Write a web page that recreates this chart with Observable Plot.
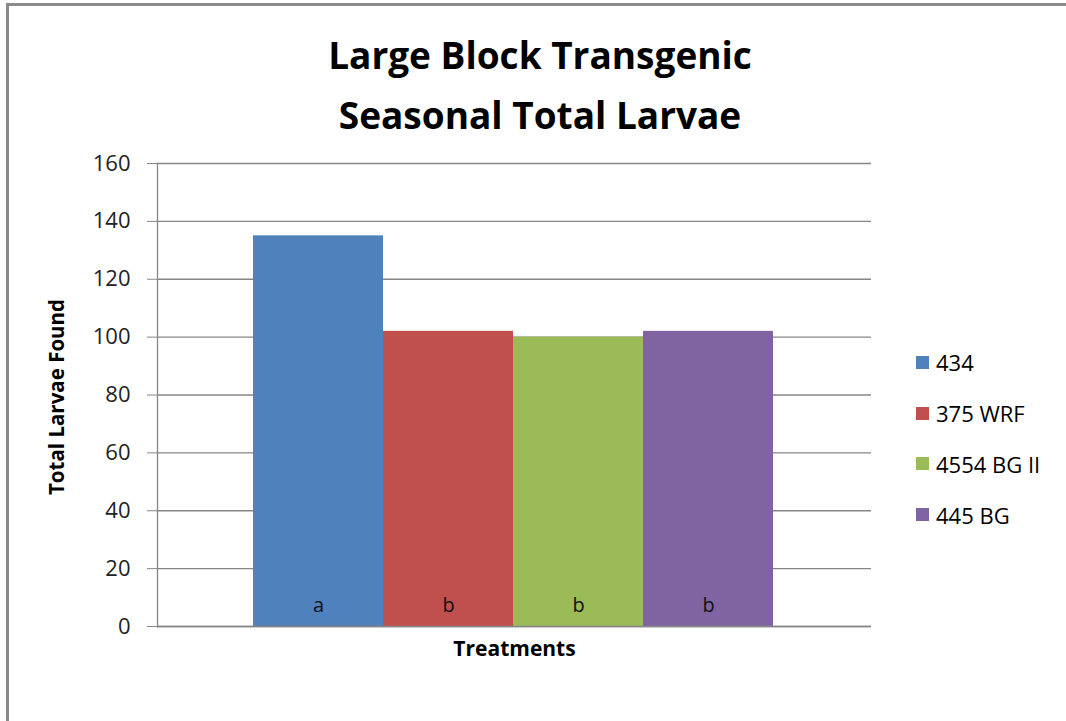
<!DOCTYPE html>
<html><head><meta charset="utf-8">
<script src="https://cdn.jsdelivr.net/npm/d3@7"></script>
<script src="https://cdn.jsdelivr.net/npm/@observablehq/plot@0.6"></script>
<style>
body{margin:0;background:#fff;}
#wrap{position:relative;width:1066px;height:721px;overflow:hidden;font-family:"Open Sans",sans-serif;color:#000;}
#frame{position:absolute;left:6px;top:3px;width:1200px;height:900px;border-left:3px solid #8a8a8a;border-top:3px solid #8a8a8a;}
#chart{position:absolute;left:0;top:0;}
.title{position:absolute;left:7px;width:1066px;text-align:center;font-weight:bold;font-size:37px;line-height:40px;white-space:nowrap;}
#legend{position:absolute;left:916px;top:337px;}
.li{height:50.8px;display:flex;align-items:center;font-size:22px;line-height:26px;}
.sw{width:13px;height:13px;margin-right:7px;}
</style></head>
<body>
<div id="wrap">
  <div id="frame"></div>
  <div id="chart"></div>
  <div class="title" style="top:35px">Large Block Transgenic</div>
  <div class="title" style="top:95px">Seasonal Total Larvae</div>
  <div id="legend"></div>
</div>
<script>
const treatments = ["434", "375 WRF", "4554 BG II", "445 BG"];
const totals = [135, 102, 100, 102];
const letters = ["a", "b", "b", "b"];
const colors = ["#4F81BD", "#C0504D", "#9BBB59", "#8064A2"];
const yTicks = [0, 20, 40, 60, 80, 100, 120, 140, 160];

const data = treatments.map((t, i) => ({treatment: t, total: totals[i], letter: letters[i]}));

const chart = Plot.plot({
  width: 1066,
  height: 721,
  marginLeft: 157,
  marginRight: 195,
  marginTop: 163,
  marginBottom: 95,
  style: {fontFamily: "Open Sans, sans-serif", background: "transparent"},
  x: {domain: treatments, range: [253, 773], padding: 0, round: false, axis: null},
  y: {domain: [0, 160], axis: null},
  color: {domain: treatments, range: colors},
  marks: [
    Plot.ruleY(yTicks, {stroke: "#868686", strokeWidth: 1.3}),
    Plot.axisY({ticks: yTicks, label: null, tickSize: 10, tickPadding: 17, stroke: "#868686", strokeOpacity: 1, tickFormat: d => d, fontSize: 22, color: "#222"}),
    Plot.frame({anchor: "left", stroke: "#868686", strokeWidth: 1.3}),
    Plot.barY(data, {x: "treatment", y: "total", fill: "treatment"}),
    Plot.ruleY([0], {stroke: "#868686", strokeWidth: 1.3}),
    Plot.text(data, {x: "treatment", y: 0, text: "letter", dy: -21, fontSize: 20, fill: "#111"}),
    Plot.text(["Total Larvae Found"], {frameAnchor: "left", textAnchor: "middle", dx: -100, dy: 2, rotate: -90, fontSize: 20.5, fontWeight: "bold", fill: "#000"}),
    Plot.text(["Treatments"], {frameAnchor: "bottom", dx: 0, dy: 29, fontSize: 21, fontWeight: "bold", fill: "#000"})
  ]
});
document.getElementById("chart").appendChild(chart);

const legend = document.getElementById("legend");
treatments.forEach((t, i) => {
  const row = document.createElement("div");
  row.className = "li";
  const sw = document.createElement("div");
  sw.className = "sw";
  sw.style.background = colors[i];
  const lab = document.createElement("span");
  lab.textContent = t;
  row.appendChild(sw); row.appendChild(lab);
  legend.appendChild(row);
});
</script>
</body></html>
